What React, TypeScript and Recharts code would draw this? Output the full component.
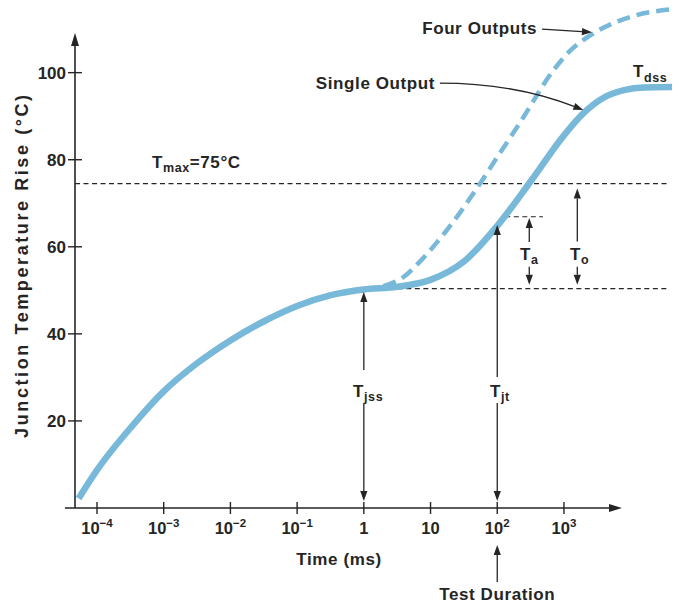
import React from 'react';
import { ComposedChart, Line, XAxis, YAxis, ReferenceLine, ReferenceDot } from 'recharts';

// single output curve (time in ms, temperature rise in °C)
const singleTime = [0.000053, 0.0001, 0.00033, 0.001, 0.0032, 0.01, 0.032, 0.1, 0.32, 1, 3.16, 10, 31.6, 100, 316, 1000, 1995, 3981, 7943, 15849, 41687];
const singleTemp = [2.2, 8.7, 18.7, 26.8, 33.3, 38.5, 42.9, 46.4, 48.9, 50.2, 50.8, 52.4, 56.6, 64.8, 75, 85.6, 90.8, 94.3, 96, 96.6, 96.7];

// four outputs curve, splits off the single one after 1 ms
const fourTime = [1, 2.19, 3.89, 6.92, 12.3, 27.5, 55, 100, 219, 692, 1230, 2754, 10965, 43650];
const fourTemp = [50.2, 51.2, 53, 56.6, 60.9, 67.8, 74.5, 80.6, 88.5, 100.5, 105, 109, 113, 114.6];

const xTicks = [0.0001, 0.001, 0.01, 0.1, 1, 10, 100, 1000];
const xTickBase = ['10', '10', '10', '10', '1', '10', '10', '10'];
const xTickExp = ['\u22124', '\u22123', '\u22122', '\u22121', '', '', '2', '3'];
const yTicks = [20, 40, 60, 80, 100];

const tMax = 74.5;
const tJss = 50.4;
const tJt = 66.9;
const testDuration = 100;
const taTime = 302;
const toTime = 1585;

const FONT = '"Liberation Sans", Arial, Helvetica, sans-serif';
const INK = '#252525';
const BLUE = '#78b8d8';

const singleData = singleTime.map((t, i) => ({ t, v: singleTemp[i] }));
const fourData = fourTime.map((t, i) => ({ t, v: fourTemp[i] }));

function arrowHead(x2: number, y2: number, ux: number, uy: number, len = 10, half = 3.6) {
  const bx = x2 - ux * len;
  const by = y2 - uy * len;
  return {
    bx,
    by,
    points: `${x2},${y2} ${bx - uy * half},${by + ux * half} ${bx + uy * half},${by - ux * half}`,
  };
}

function Arrow(props: any) {
  const { x1, y1, x2, y2 } = props;
  const dx = x2 - x1;
  const dy = y2 - y1;
  const len = Math.hypot(dx, dy) || 1;
  const head = arrowHead(x2, y2, dx / len, dy / len, props.headLen ?? 10, props.headHalf ?? 3.6);
  return (
    <g>
      <line x1={x1} y1={y1} x2={head.bx} y2={head.by} stroke={INK} strokeWidth={props.width ?? 1.3} />
      <polygon points={head.points} fill={INK} />
    </g>
  );
}

function CurvedArrow(props: any) {
  const { x1, y1, x2, y2 } = props;
  const cx = x1 + (x2 - x1) * 0.52;
  const cy = y1;
  const tx = x2 - cx;
  const ty = y2 - cy;
  const len = Math.hypot(tx, ty) || 1;
  const head = arrowHead(x2, y2, tx / len, ty / len);
  return (
    <g>
      <path d={`M${x1},${y1} Q${cx},${cy} ${head.bx},${head.by}`} fill="none" stroke={INK} strokeWidth={1.3} />
      <polygon points={head.points} fill={INK} />
    </g>
  );
}

const axisArrow = (p: any) => <Arrow {...p} width={1.6} headLen={13} headHalf={4} />;

function note(main: string, sub = '', rest = '', anchor: 'start' | 'middle' | 'end' = 'start') {
  return (p: any) => (
    <text x={p.cx} y={p.cy} textAnchor={anchor} fontFamily={FONT} fontWeight="bold" fontSize={17} letterSpacing={0.6} fill={INK}>
      {main}
      {sub && (
        <tspan fontSize={12.5} dy={4.5}>
          {sub}
        </tspan>
      )}
      {rest && <tspan dy={sub ? -4.5 : 0}>{rest}</tspan>}
    </text>
  );
}

function YTitle(p: any) {
  return (
    <text
      x={p.cx}
      y={p.cy}
      transform={`rotate(-90, ${p.cx}, ${p.cy})`}
      textAnchor="middle"
      fontFamily={FONT}
      fontWeight="bold"
      fontSize={18}
      textLength={343}
      lengthAdjust="spacing"
      fill={INK}
    >
      Junction Temperature Rise (°C)
    </text>
  );
}

function XTick(props: any) {
  const { x, y, payload } = props;
  const i = xTicks.indexOf(payload.value);
  return (
    <g>
      <line x1={x} y1={y - 6} x2={x} y2={y + 6} stroke={INK} strokeWidth={1.4} />
      <text x={x} y={y + 26} textAnchor="middle" fontFamily={FONT} fontWeight="bold" fontSize={16.5} fill={INK}>
        {xTickBase[i]}
        {xTickExp[i] && (
          <tspan fontSize={11.5} dy={-7}>
            {xTickExp[i]}
          </tspan>
        )}
      </text>
    </g>
  );
}

function YTick(props: any) {
  const { x, y, payload } = props;
  return (
    <g>
      <line x1={x - 7} y1={y} x2={x + 7} y2={y} stroke={INK} strokeWidth={1.4} />
      <text x={x - 9} y={y + 6} textAnchor="end" fontFamily={FONT} fontWeight="bold" fontSize={17} fill={INK}>
        {payload.value}
      </text>
    </g>
  );
}

const dashed = { stroke: INK, strokeWidth: 1.1, strokeDasharray: '5 3.5' };

export default function App() {
  return (
    <div style={{ position: 'absolute', left: 0, top: 0, background: '#fff' }}>
      <ComposedChart width={679} height={604} margin={{ top: 3, right: 2, bottom: 56, left: 0 }}>
        <XAxis
          dataKey="t"
          type="number"
          scale="log"
          domain={[0.0000468, 49500]}
          allowDataOverflow
          ticks={xTicks}
          tick={<XTick />}
          tickLine={false}
          axisLine={false}
          tickSize={0}
          tickMargin={0}
          height={40}
        />
        <YAxis
          type="number"
          domain={[0, 116]}
          allowDataOverflow
          ticks={yTicks}
          tick={<YTick />}
          tickLine={false}
          axisLine={false}
          tickSize={0}
          tickMargin={0}
          width={75}
        />

        {/* axes with arrow heads */}
        <ReferenceLine segment={[{ x: 0.0000468, y: 0 }, { x: 0.0000468, y: 109.1 }]} ifOverflow="visible" shape={axisArrow} />
        <ReferenceLine segment={[{ x: 0.000033, y: 0 }, { x: 7413, y: 0 }]} ifOverflow="visible" shape={axisArrow} />

        {/* dashed guide lines */}
        <ReferenceLine segment={[{ x: 0.0000468, y: tMax }, { x: 36300, y: tMax }]} ifOverflow="visible" {...dashed} />
        <ReferenceLine segment={[{ x: 1, y: tJss }, { x: 36300, y: tJss }]} ifOverflow="visible" {...dashed} />
        <ReferenceLine segment={[{ x: 132, y: tJt }, { x: 484, y: tJt }]} ifOverflow="visible" {...dashed} />

        <Line data={fourData} dataKey="v" type="monotone" stroke={BLUE} strokeWidth={4.5} strokeDasharray="13 7" dot={false} activeDot={false} isAnimationActive={false} />
        <Line data={singleData} dataKey="v" type="monotone" stroke={BLUE} strokeWidth={6.5} dot={false} activeDot={false} isAnimationActive={false} />

        {/* T_jss */}
        <ReferenceLine segment={[{ x: 1, y: 31.7 }, { x: 1, y: 49.6 }]} ifOverflow="visible" shape={Arrow} />
        <ReferenceLine segment={[{ x: 1, y: 24.1 }, { x: 1, y: 1.6 }]} ifOverflow="visible" shape={Arrow} />
        {/* T_jt */}
        <ReferenceLine segment={[{ x: testDuration, y: 30.1 }, { x: testDuration, y: 65 }]} ifOverflow="visible" shape={Arrow} />
        <ReferenceLine segment={[{ x: testDuration, y: 24.1 }, { x: testDuration, y: 1.6 }]} ifOverflow="visible" shape={Arrow} />
        {/* T_a */}
        <ReferenceLine segment={[{ x: taTime, y: 61.1 }, { x: taTime, y: 66.6 }]} ifOverflow="visible" shape={Arrow} />
        <ReferenceLine segment={[{ x: taTime, y: 55.4 }, { x: taTime, y: 51.3 }]} ifOverflow="visible" shape={Arrow} />
        {/* T_o */}
        <ReferenceLine segment={[{ x: toTime, y: 61.2 }, { x: toTime, y: 73.4 }]} ifOverflow="visible" shape={Arrow} />
        <ReferenceLine segment={[{ x: toTime, y: 55.4 }, { x: toTime, y: 51.3 }]} ifOverflow="visible" shape={Arrow} />
        {/* test duration pointer */}
        <ReferenceLine segment={[{ x: testDuration, y: -17 }, { x: testDuration, y: -8.5 }]} ifOverflow="visible" shape={Arrow} />
        {/* series pointers */}
        <ReferenceLine segment={[{ x: 470, y: 110 }, { x: 2630, y: 109.3 }]} ifOverflow="visible" shape={Arrow} />
        <ReferenceLine segment={[{ x: 13.8, y: 97.6 }, { x: 1950, y: 91.4 }]} ifOverflow="visible" shape={CurvedArrow} />

        {/* texts */}
        <ReferenceDot x={395} y={108.9} r={0} ifOverflow="visible" shape={note('Four Outputs', '', '', 'end')} />
        <ReferenceDot x={11.7} y={96.25} r={0} ifOverflow="visible" shape={note('Single Output', '', '', 'end')} />
        <ReferenceDot x={10860} y={99} r={0} ifOverflow="visible" shape={note('T', 'dss')} />
        <ReferenceDot x={0.000667} y={78.1} r={0} ifOverflow="visible" shape={note('T', 'max', '=75°C')} />
        <ReferenceDot x={0.689} y={25.5} r={0} ifOverflow="visible" shape={note('T', 'jss')} />
        <ReferenceDot x={78} y={25.5} r={0} ifOverflow="visible" shape={note('T', 'jt')} />
        <ReferenceDot x={220} y={57} r={0} ifOverflow="visible" shape={note('T', 'a')} />
        <ReferenceDot x={1233} y={57} r={0} ifOverflow="visible" shape={note('T', 'o')} />
        <ReferenceDot x={0.425} y={-13.1} r={0} ifOverflow="visible" shape={note('Time (ms)', '', '', 'middle')} />
        <ReferenceDot x={testDuration} y={-21.1} r={0} ifOverflow="visible" shape={note('Test Duration', '', '', 'middle')} />
        <ReferenceDot x={0.0000092} y={55.5} r={0} ifOverflow="visible" shape={YTitle} />
      </ComposedChart>
    </div>
  );
}
